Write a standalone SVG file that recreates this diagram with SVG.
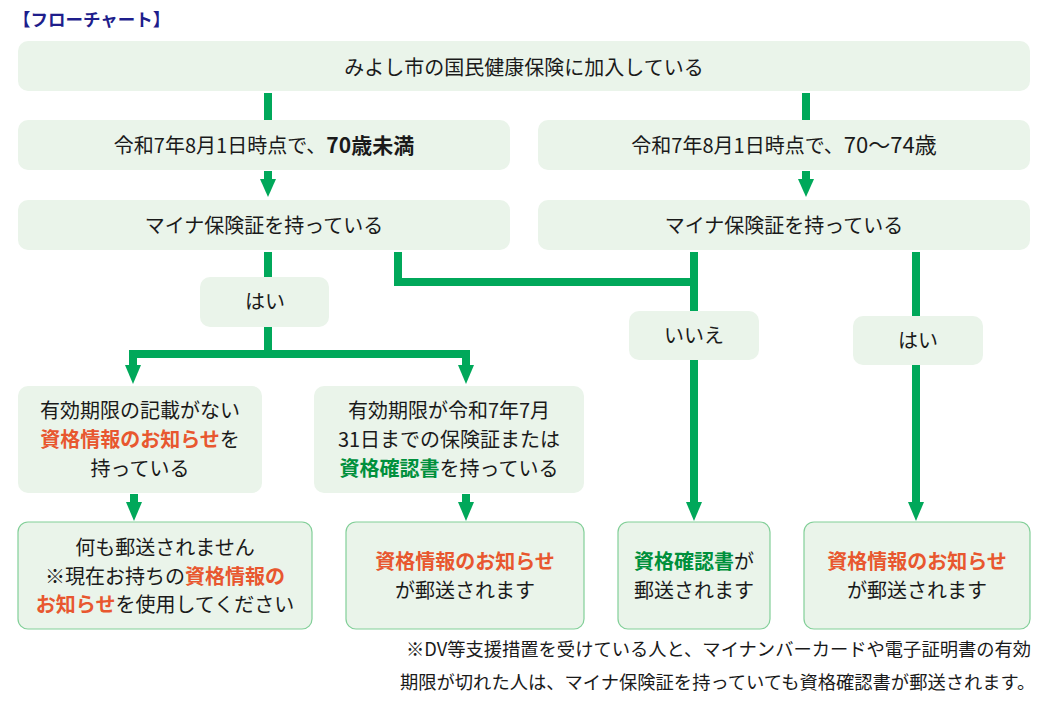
<svg xmlns="http://www.w3.org/2000/svg" width="1056" height="714" viewBox="0 0 1056 714">
<style>
.box{fill:#eaf4ea;}
.rbox{fill:#eaf4ea;stroke:#82cf98;stroke-width:1.2;}
text{font-family:"Noto Sans CJK JP","Noto Sans",sans-serif;font-size:20px;fill:#1a1a1a;text-anchor:middle;}
.foot{font-size:18.3px;text-anchor:start;}
.title{font-size:17.5px;font-weight:bold;fill:#1e1e8c;text-anchor:start;}
.o{fill:#e8572f;font-weight:bold;}
.g{fill:#00903c;font-weight:bold;}
.ln{stroke:#00a85a;stroke-width:8;fill:none;stroke-linecap:butt;stroke-linejoin:miter;}
.ah{fill:#00a85a;}
</style>
<rect width="1056" height="714" fill="#ffffff"/>
<text class="title" x="13" y="26">【フローチャート】</text>

<g id="connectors">
  <line class="ln" x1="268" y1="93" x2="268" y2="120"/>
  <line class="ln" x1="806" y1="93" x2="806" y2="120"/>
  <line class="ln" x1="268" y1="171" x2="268" y2="180"/>
  <polygon class="ah" points="260,179 276,179 268,197"/>
  <line class="ln" x1="806" y1="171" x2="806" y2="180"/>
  <polygon class="ah" points="798,179 814,179 806,197"/>
  <line class="ln" x1="268" y1="252" x2="268" y2="277"/>
  <line class="ln" x1="268" y1="327" x2="268" y2="354"/>
  <polyline class="ln" points="133,367 133,354 466,354 466,367"/>
  <polygon class="ah" points="125,365 141,365 133,384"/>
  <polygon class="ah" points="458,365 474,365 466,384"/>
  <polyline class="ln" points="398,252 398,282 694,282"/>
  <line class="ln" x1="694" y1="252" x2="694" y2="311"/>
  <line class="ln" x1="694" y1="360" x2="694" y2="504"/>
  <polygon class="ah" points="686,502 702,502 694,521"/>
  <line class="ln" x1="916" y1="252" x2="916" y2="316"/>
  <line class="ln" x1="916" y1="365" x2="916" y2="504"/>
  <polygon class="ah" points="908,502 924,502 916,521"/>
  <line class="ln" x1="134" y1="494" x2="134" y2="504"/>
  <polygon class="ah" points="126,502 142,502 134,521"/>
  <line class="ln" x1="466" y1="494" x2="466" y2="504"/>
  <polygon class="ah" points="458,502 474,502 466,521"/>
</g>

<g id="n_top">
  <rect class="box" x="18" y="41" width="1012" height="50" rx="10"/>
  <text x="524" y="75">みよし市の国民健康保険に加入している</text>
</g>
<g id="n_age70under">
  <rect class="box" x="18" y="120" width="492" height="50" rx="10"/>
  <text x="264" y="153">令和7年8月1日時点で、<tspan font-size="21" font-weight="600">70歳未満</tspan></text>
</g>
<g id="n_age70_74">
  <rect class="box" x="538" y="120" width="492" height="50" rx="10"/>
  <text x="784" y="153">令和7年8月1日時点で、<tspan font-size="22">70〜74歳</tspan></text>
</g>
<g id="n_myna_left">
  <rect class="box" x="18" y="200" width="492" height="50" rx="10"/>
  <text x="264" y="233">マイナ保険証を持っている</text>
</g>
<g id="n_myna_right">
  <rect class="box" x="538" y="200" width="492" height="50" rx="10"/>
  <text x="784" y="233">マイナ保険証を持っている</text>
</g>
<g id="n_yes_left">
  <rect class="box" x="200" y="277" width="129" height="50" rx="10"/>
  <text x="265" y="309">はい</text>
</g>
<g id="n_no">
  <rect class="box" x="629" y="311" width="130" height="49" rx="10"/>
  <text x="694" y="343">いいえ</text>
</g>
<g id="n_yes_right">
  <rect class="box" x="853" y="316" width="130" height="49" rx="10"/>
  <text x="918" y="348">はい</text>
</g>
<g id="n_noexpiry">
  <rect class="box" x="18" y="386" width="244" height="107" rx="10"/>
  <text x="140" y="418">有効期限の記載がない</text>
  <text x="140" y="447"><tspan class="o">資格情報のお知らせ</tspan>を</text>
  <text x="140" y="476">持っている</text>
</g>
<g id="n_expiry0731">
  <rect class="box" x="314" y="386" width="270" height="107" rx="10"/>
  <text x="449" y="418">有効期限が令和7年7月</text>
  <text x="449" y="447">31日までの保険証または</text>
  <text x="449" y="476"><tspan class="g">資格確認書</tspan>を持っている</text>
</g>
<g id="n_nothing">
  <rect class="rbox" x="18" y="522" width="294" height="107" rx="10"/>
  <text x="165" y="555">何も郵送されません</text>
  <text x="165" y="584">※現在お持ちの<tspan class="o">資格情報の</tspan></text>
  <text x="165" y="612"><tspan class="o">お知らせ</tspan>を使用してください</text>
</g>
<g id="n_notice_mid">
  <rect class="rbox" x="346" y="522" width="238" height="107" rx="10"/>
  <text x="465" y="569"><tspan class="o">資格情報のお知らせ</tspan></text>
  <text x="465" y="598">が郵送されます</text>
</g>
<g id="n_certificate">
  <rect class="rbox" x="618" y="522" width="152" height="107" rx="10"/>
  <text x="694" y="569"><tspan class="g">資格確認書</tspan>が</text>
  <text x="694" y="598">郵送されます</text>
</g>
<g id="n_notice_right">
  <rect class="rbox" x="804" y="522" width="226" height="107" rx="10"/>
  <text x="917" y="569"><tspan class="o">資格情報のお知らせ</tspan></text>
  <text x="917" y="598">が郵送されます</text>
</g>

<text class="foot" x="406" y="656">※DV等支援措置を受けている人と、マイナンバーカードや電子証明書の有効</text>
<text class="foot" x="400" y="689">期限が切れた人は、マイナ保険証を持っていても資格確認書が郵送されます。</text>
</svg>
